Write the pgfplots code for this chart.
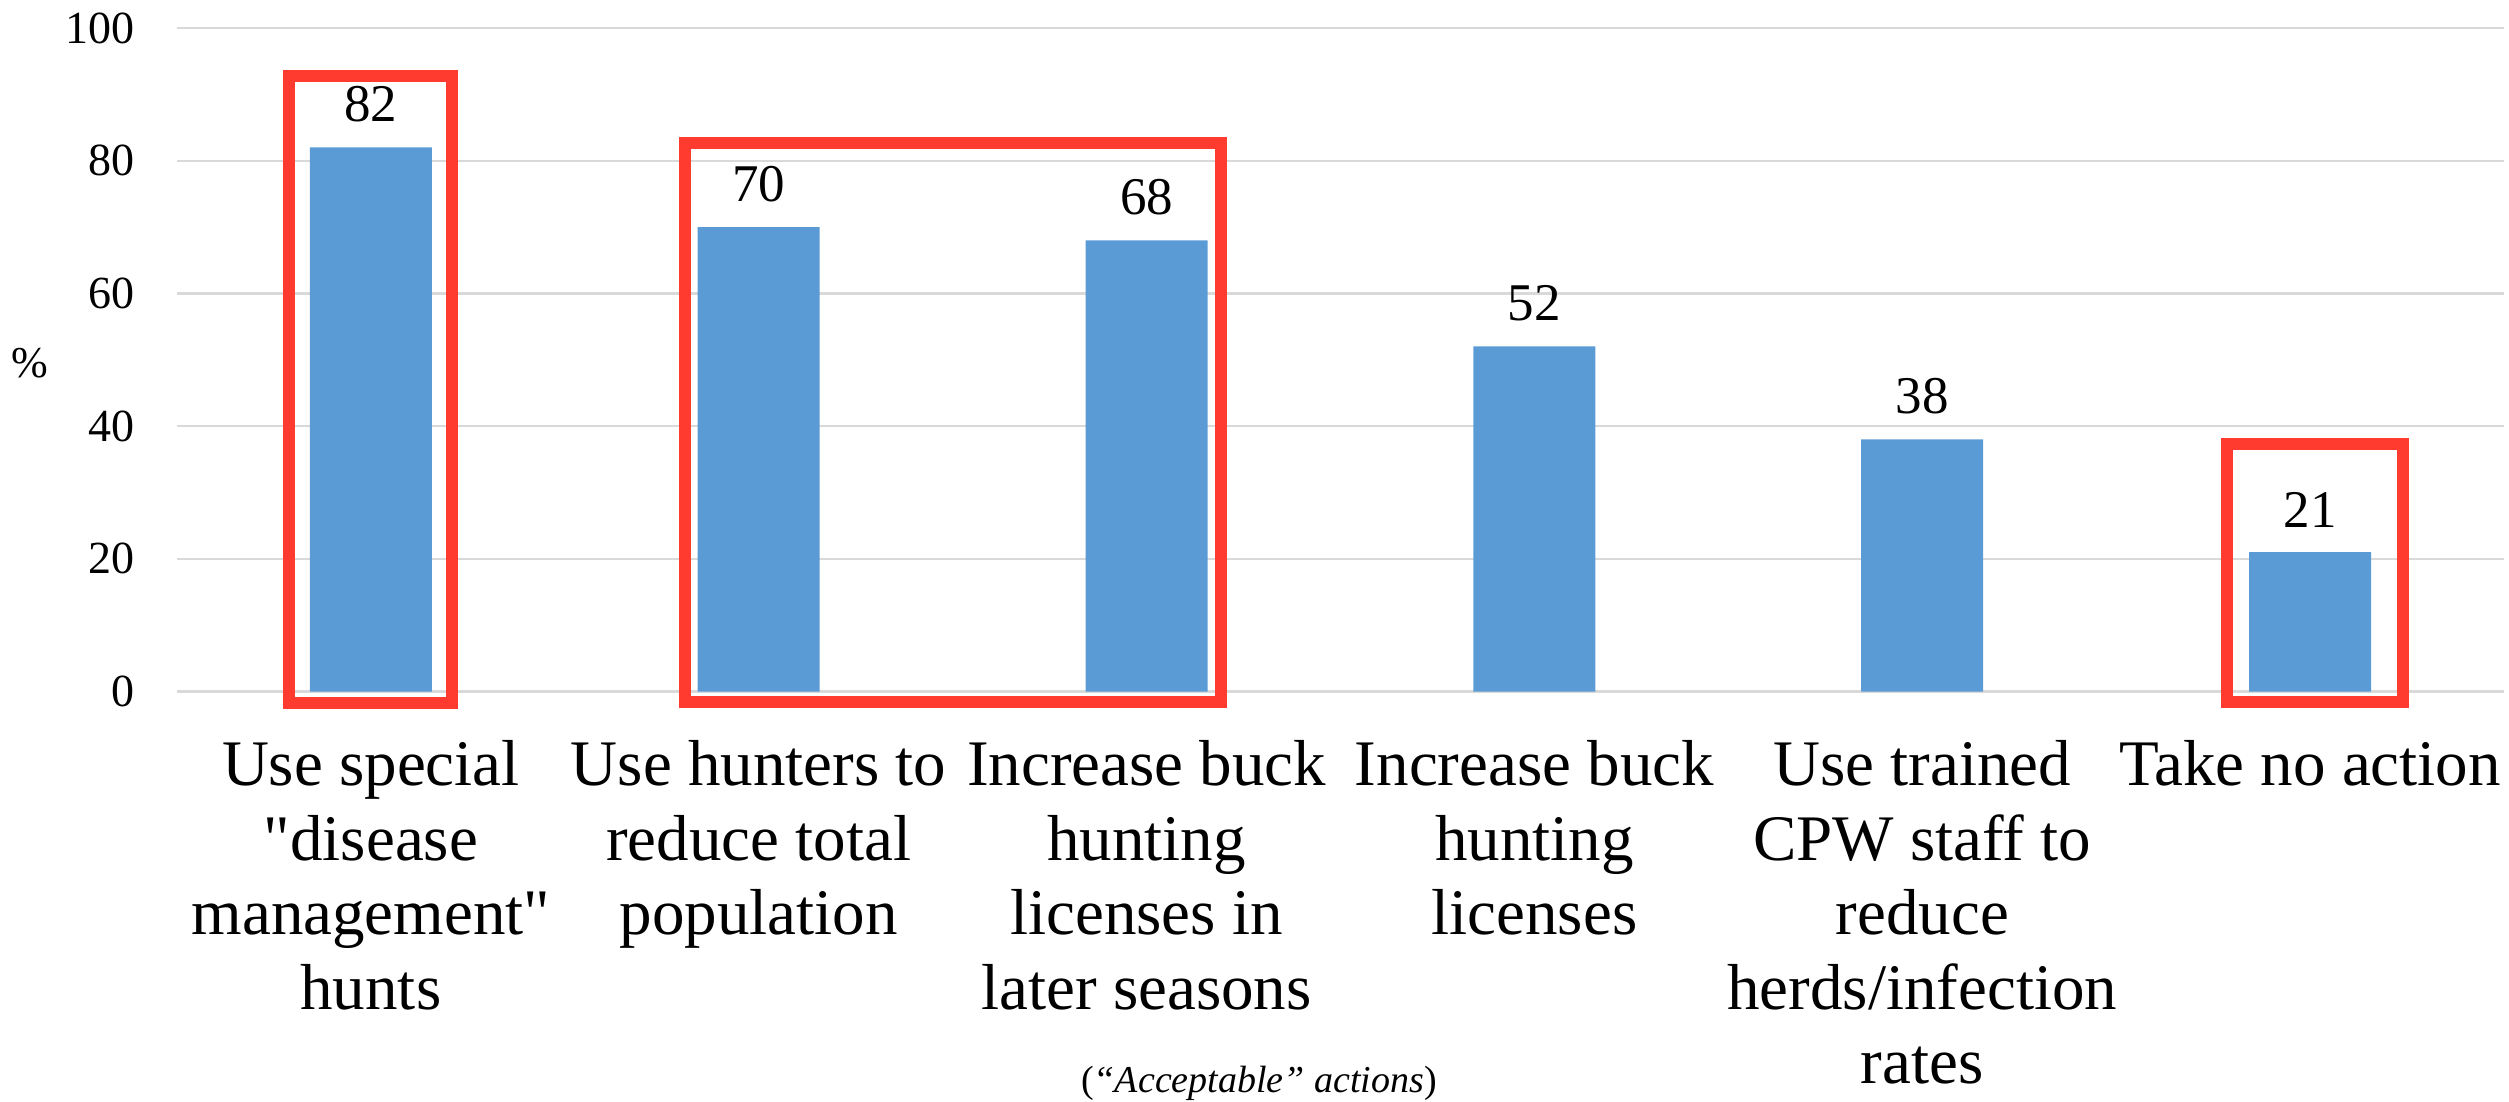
\documentclass[border=0pt]{standalone}
\usepackage{pgfplots}
\pgfplotsset{compat=1.18}
\usepackage{fontspec}
\setmainfont{Liberation Serif}[Ligatures=TeXOff]
\definecolor{barblue}{HTML}{5B9BD5}
\definecolor{boxred}{HTML}{FF3B2F}
\definecolor{gridgray}{HTML}{D9D9D9}
\begin{document}
\begin{tikzpicture}
\begin{axis}[
  at={(0,0)}, anchor=south west,
  scale only axis,
  width=465.4pt, height=132.7pt,
  ybar, bar width=24.4pt,
  xmin=-0.5, xmax=5.5,
  ymin=0, ymax=100,
  ytick={0,20,...,100},
  xtick={0,1,2,3,4,5},
  xticklabels={{Use special\\"disease\\management"\\hunts},
               {Use hunters to\\reduce total\\population},
               {Increase buck\\hunting\\licenses in\\later seasons},
               {Increase buck\\hunting\\licenses},
               {Use trained\\CPW staff to\\reduce\\herds/infection\\rates},
               {Take no action}},
  axis line style={draw=none},
  major tick length=0pt,
  ymajorgrids,
  grid style={draw=gridgray, line width=0.45pt},
  /pgf/number format/assume math mode=true,
  yticklabel style={font=\fontsize{9.2}{11}\selectfont, anchor=east, inner sep=0pt, xshift=-8.2pt},
  xticklabel style={font=\fontsize{13}{14.9}\selectfont, align=center, anchor=north, inner sep=0pt, yshift=-9.6pt},
  nodes near coords,
  every node near coord/.append style={font=\fontsize{10.6}{12}\selectfont, inner sep=0pt, yshift=4.8pt, text=black},
  clip=false,
]
\addplot[fill=barblue, draw=none] coordinates {(0,82) (1,70) (2,68) (3,52) (4,38) (5,21)};
\draw[boxred, line width=2.4pt] (axis cs:-0.211,-1.7) rectangle (axis cs:0.209,92.8);
\draw[boxred, line width=2.4pt] (axis cs:0.809,-1.6) rectangle (axis cs:2.191,82.6);
\draw[boxred, line width=2.4pt] (axis cs:4.786,-1.6) rectangle (axis cs:5.240,37.3);
\node[font=\fontsize{8.8}{10}\selectfont, inner sep=0pt] at (rel axis cs:0,0.495) [xshift=-29.4pt] {\%};
\node[font=\fontsize{7.6}{9}\selectfont, inner sep=0pt, anchor=base] at (rel axis cs:0,0) [xshift=216.4pt, yshift=-80.2pt] {(\textit{“Acceptable” actions})};
\end{axis}
\pgfresetboundingbox
\path (-35.4pt,-81.9pt) rectangle (466.4pt,138.3pt);
\end{tikzpicture}
\end{document}
